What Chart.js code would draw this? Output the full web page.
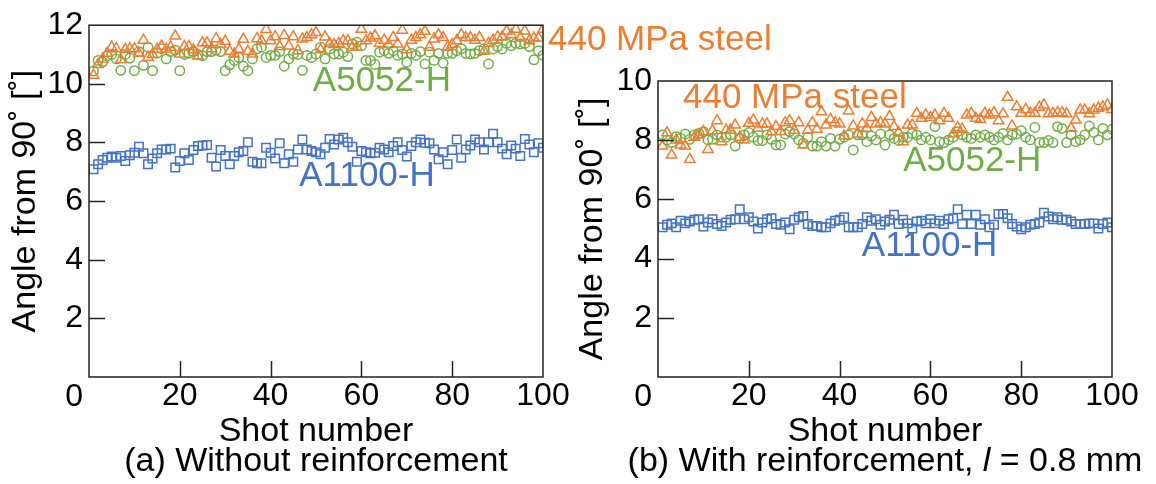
<!DOCTYPE html>
<html>
<head>
<meta charset="utf-8">
<script src="https://cdn.jsdelivr.net/npm/chart.js@4.4.0/dist/chart.umd.min.js"></script>
<style>
  body { margin: 0; background: #fff; }
  #wrap { position: relative; width: 1156px; height: 484px; overflow: hidden; }
  canvas { position: absolute; top: 0; }
  #chartA { left: 0; }
  #chartB { left: 560px; }
</style>
</head>
<body>
<div id="wrap">
  <canvas id="chartA" width="800" height="484"></canvas>
  <canvas id="chartB" width="596" height="484"></canvas>
</div>
<script>
// shot numbers 1..100
const shots = Array.from({ length: 100 }, (_, i) => i + 1);

// (a) without reinforcement
const steelA = [
  10.29, 10.66, 10.85, 11.04, 11.25, 11.2, 10.82, 11.17, 11.2, 11.2,
  11.04, 11.49, 10.91, 11.0, 11.18, 11.29, 11.18, 11.25, 11.63, 11.02,
  11.27, 11.27, 11.16, 10.95, 11.4, 11.4, 11.2, 11.54, 11.34, 11.45,
  11.11, 11.02, 11.18, 11.52, 11.11, 11.02, 11.54, 11.47, 11.85, 11.47,
  11.61, 11.27, 11.65, 11.29, 11.61, 11.13, 11.53, 11.58, 11.67, 11.75,
  11.16, 11.6, 11.38, 11.34, 11.38, 11.47, 11.47, 11.25, 11.25, 11.86,
  11.47, 11.56, 11.64, 11.38, 11.49, 11.34, 11.58, 11.36, 11.83, 11.16,
  11.49, 11.58, 11.67, 11.79, 11.25, 11.53, 11.67, 11.58, 11.25, 11.34,
  11.47, 11.67, 11.58, 11.58, 11.49, 11.58, 11.11, 11.38, 11.49, 11.6,
  11.6, 11.8, 11.67, 11.86, 11.56, 11.8, 11.47, 11.56, 11.56, 11.86
];
const a5052A = [
  10.44, 10.8, 10.75, 10.95, 11.0, 10.85, 10.46, 11.0, 10.88, 10.45,
  11.1, 10.63, 11.25, 10.45, 11.05, 11.2, 10.85, 11.1, 11.15, 10.45,
  11.0, 11.05, 11.1, 11.0, 10.96, 11.1, 11.1, 11.15, 11.1, 10.45,
  10.65, 10.8, 10.9, 10.6, 10.45, 10.85, 11.2, 11.25, 10.9, 10.97,
  10.97, 11.1, 10.6, 10.85, 11.02, 11.0, 10.46, 10.97, 10.9, 11.02,
  11.25, 10.85, 11.19, 11.02, 11.02, 11.08, 10.93, 11.36, 11.42, 11.3,
  10.8, 10.8, 10.66, 11.08, 11.13, 11.04, 11.13, 10.97, 11.02, 10.74,
  11.04, 10.97, 11.1, 10.68, 11.08, 10.8, 11.04, 10.71, 11.04, 11.04,
  11.13, 11.2, 11.04, 11.02, 11.04, 11.13, 11.2, 10.68, 11.19, 11.27,
  11.19, 11.38, 11.3, 11.38, 11.36, 11.38, 11.27, 10.82, 11.13, 10.97
];
const a1100A = [
  7.09, 7.26, 7.4, 7.48, 7.52, 7.48, 7.54, 7.37, 7.56, 7.65,
  7.85, 7.63, 7.26, 7.45, 7.63, 7.76, 7.76, 7.79, 7.15, 7.37,
  7.63, 7.4, 7.74, 7.88, 7.9, 7.91, 7.48, 7.18, 7.74, 7.54,
  7.26, 7.54, 7.67, 7.71, 8.01, 7.34, 7.29, 7.29, 7.82, 7.65,
  7.45, 7.97, 7.29, 7.6, 7.34, 7.76, 8.1, 7.76, 7.71, 7.67,
  7.6, 7.82, 8.12, 7.93, 8.1, 8.16, 8.01, 7.85, 7.34, 7.71,
  7.67, 7.63, 7.65, 7.82, 7.76, 7.67, 7.88, 8.01, 7.74, 7.52,
  7.88, 8.01, 8.1, 7.99, 7.97, 7.76, 7.43, 7.67, 7.26, 7.74,
  8.1, 7.48, 7.76, 7.9, 8.1, 8.01, 7.76, 8.01, 8.3, 8.01,
  7.79, 7.6, 7.9, 7.79, 7.54, 8.12, 7.93, 7.67, 7.97, 7.82
];

// (b) with reinforcement, l = 0.8 mm
const steelB = [
  7.8, 8.25, 7.5, 8.01, 7.84, 7.8, 7.35, 8.1, 8.18, 8.29,
  7.69, 8.32, 8.66, 7.95, 8.34, 8.34, 8.51, 8.1, 8.01, 8.57,
  8.68, 8.4, 8.55, 8.55, 8.29, 8.46, 8.29, 8.59, 8.66, 8.34,
  8.59, 7.84, 8.34, 8.59, 8.37, 8.96, 8.51, 8.7, 8.59, 8.55,
  8.14, 8.99, 8.48, 8.21, 8.55, 8.4, 8.77, 8.55, 8.59, 8.55,
  8.8, 8.46, 8.26, 7.95, 8.51, 8.51, 8.91, 8.74, 8.85, 8.77,
  8.85, 8.66, 8.91, 8.74, 8.21, 8.43, 8.37, 8.85, 8.91, 8.74,
  8.7, 8.91, 8.85, 8.93, 8.66, 8.89, 9.45, 8.48, 9.13, 8.91,
  9.04, 8.91, 8.91, 9.11, 9.19, 8.89, 8.91, 8.93, 8.93, 8.89,
  8.4, 8.68, 9.02, 9.02, 8.89, 9.02, 9.08, 9.13, 9.19, 9.04
];
const a5052B = [
  8.18, 8.01, 7.92, 8.12, 8.06, 8.21, 8.03, 8.18, 8.23, 8.29,
  8.01, 8.03, 8.18, 8.1, 8.1, 8.18, 7.8, 8.06, 8.18, 8.26,
  8.1, 7.99, 7.99, 8.18, 8.03, 7.84, 7.84, 8.21, 8.29, 8.21,
  8.01, 7.9, 8.1, 7.8, 7.8, 7.95, 7.8, 8.06, 7.8, 8.03,
  8.1, 8.18, 7.67, 8.18, 8.18, 7.95, 8.14, 8.01, 8.21, 7.84,
  8.18, 8.06, 7.99, 8.1, 8.1, 8.23, 8.18, 8.01, 8.1, 8.01,
  8.46, 7.95, 7.92, 8.01, 8.1, 8.29, 8.18, 8.1, 8.06, 8.18,
  8.1, 8.18, 8.1, 8.01, 8.1, 8.23, 8.01, 8.18, 8.21, 8.32,
  8.1, 8.01, 8.43, 7.92, 7.92, 7.99, 7.92, 8.46, 8.4, 7.92,
  8.18, 7.95, 8.01, 8.18, 8.48, 8.26, 8.01, 8.4, 8.18, 8.37
];
const a1100B = [
  5.06, 5.14, 5.19, 5.06, 5.28, 5.19, 5.25, 5.31, 5.33, 5.08,
  5.22, 5.33, 5.17, 5.1, 5.22, 5.31, 5.33, 5.67, 5.33, 5.4,
  5.25, 5.02, 5.22, 5.33, 5.36, 5.17, 5.14, 5.22, 4.99, 5.31,
  5.4, 5.44, 5.17, 5.1, 5.1, 5.06, 5.06, 5.19, 5.28, 5.31,
  5.4, 5.06, 5.06, 5.06, 5.17, 5.4, 5.28, 5.33, 5.14, 5.25,
  5.31, 5.48, 5.17, 5.31, 5.19, 5.02, 5.25, 5.28, 5.19, 5.33,
  5.19, 5.28, 5.17, 5.33, 5.36, 5.67, 5.17, 5.48, 5.17, 5.48,
  5.14, 5.33, 5.06, 5.14, 5.51, 5.51, 5.36, 5.17, 5.08, 4.99,
  5.06, 5.14, 5.17, 5.22, 5.55, 5.42, 5.33, 5.4, 5.31, 5.31,
  5.25, 5.17, 5.17, 5.17, 5.19, 5.19, 5.02, 5.17, 5.22, 5.06
];

const seriesNames = ['440 MPa steel', 'A5052-H', 'A1100-H'];
const ORANGE = '#ED7D31';
const GREEN = '#70AD47';
const BLUE = '#4472C4';
const FAMILY = '"Liberation Sans", Arial, Helvetica, sans-serif';

function points(vals) {
  return vals.map((v, i) => ({ x: shots[i], y: v }));
}

// frame, inward ticks, corner zero, caption and the coloured series names
const panelDecor = {
  id: 'panelDecor',
  afterDraw(chart, args, opts) {
    const { ctx, chartArea: a, scales: { x, y } } = chart;
    ctx.save();
    ctx.strokeStyle = '#222';
    ctx.lineWidth = 1.5;
    ctx.beginPath();
    y.ticks.forEach(t => {
      if (t.value <= y.min || t.value >= y.max) return;
      const py = Math.round(y.getPixelForValue(t.value)) + 0.5;
      ctx.moveTo(a.left, py);
      ctx.lineTo(a.left + 16, py);
    });
    x.ticks.forEach(t => {
      if (t.value <= x.min || t.value >= x.max) return;
      const px = Math.round(x.getPixelForValue(t.value)) + 0.5;
      ctx.moveTo(px, a.bottom);
      ctx.lineTo(px, a.bottom - 16);
    });
    ctx.stroke();
    ctx.strokeRect(a.left, a.top, a.right - a.left, a.bottom - a.top);

    ctx.font = '32px ' + FAMILY;
    ctx.fillStyle = '#000';
    ctx.textAlign = 'right';
    ctx.textBaseline = 'middle';
    ctx.fillText('0', a.left - 6, a.bottom + 20);

    // caption, parts may be italic
    ctx.textAlign = 'left';
    const fontOf = p => (p.italic ? 'italic ' : '') + '34px ' + FAMILY;
    let total = 0;
    opts.caption.forEach(p => { ctx.font = fontOf(p); total += ctx.measureText(p.text).width; });
    let cx = (a.left + a.right) / 2 - total / 2;
    opts.caption.forEach(p => {
      ctx.font = fontOf(p);
      ctx.fillText(p.text, cx, a.bottom + 85);
      cx += ctx.measureText(p.text).width;
    });

    ctx.font = '35px ' + FAMILY;
    opts.labels.forEach(l => {
      ctx.fillStyle = l.color;
      ctx.fillText(l.text, x.getPixelForValue(l.x), y.getPixelForValue(l.y));
    });
    ctx.restore();
  }
};

function makeChart(id, steel, a5052, a1100, cfg) {
  const ctx = document.getElementById(id).getContext('2d');
  return new Chart(ctx, {
    type: 'scatter',
    data: {
      datasets: [{
        label: seriesNames[0],
        data: points(steel),
        pointStyle: 'triangle',
        pointRadius: 6,
        pointBorderColor: ORANGE,
        pointBackgroundColor: 'rgba(0,0,0,0)',
        pointBorderWidth: 1.5
      }, {
        label: seriesNames[1],
        data: points(a5052),
        pointStyle: 'circle',
        pointRadius: 4.7,
        pointBorderColor: GREEN,
        pointBackgroundColor: 'rgba(0,0,0,0)',
        pointBorderWidth: 1.5
      }, {
        label: seriesNames[2],
        data: points(a1100),
        pointStyle: 'rect',
        pointRadius: 6,
        pointBorderColor: BLUE,
        pointBackgroundColor: 'rgba(0,0,0,0)',
        pointBorderWidth: 1.5
      }]
    },
    options: {
      responsive: false,
      animation: false,
      layout: { padding: cfg.padding },
      plugins: {
        legend: { display: false },
        tooltip: { enabled: false },
        panelDecor: { labels: cfg.labels, caption: cfg.caption }
      },
      scales: {
        x: {
          type: 'linear',
          min: 0,
          max: 100,
          afterFit: s => { s.height = 107; },
          grid: { display: false, drawTicks: false },
          border: { display: false },
          ticks: {
            stepSize: 20,
            padding: 0,
            maxRotation: 0,
            autoSkip: false,
            color: '#000',
            font: { size: 32, family: FAMILY, lineHeight: 1.2 },
            callback: v => v === 0 ? '' : v
          },
          title: {
            display: true,
            text: 'Shot number',
            color: '#000',
            font: { size: 34, family: FAMILY, lineHeight: 0.88 },
            padding: { top: 0, bottom: 37 }
          }
        },
        y: {
          min: 0,
          max: cfg.yMax,
          afterFit: s => { s.width = cfg.yWidth; },
          grid: { display: false, drawTicks: false },
          border: { display: false },
          ticks: {
            stepSize: 2,
            padding: 6,
            color: '#000',
            font: { size: 32, family: FAMILY, lineHeight: 1.2 },
            callback: v => v === 0 ? '' : v
          },
          title: {
            display: true,
            text: 'Angle from 90˚ [˚]',
            color: '#000',
            font: { size: 34, family: FAMILY, lineHeight: 1.2 },
            padding: { top: cfg.titlePad, bottom: 0 }
          }
        }
      }
    },
    plugins: [panelDecor]
  });
}

makeChart('chartA', steelA, a5052A, a1100A, {
  padding: { left: 0, top: 21, right: 257, bottom: 0 },
  yMax: 12,
  yWidth: 89,
  titlePad: 5,
  caption: [{ text: '(a) Without reinforcement' }],
  labels: [
    { text: seriesNames[0], color: ORANGE, x: 101.1, y: 11.49 },
    { text: seriesNames[1], color: GREEN, x: 49.3, y: 10.08 },
    { text: seriesNames[2], color: BLUE, x: 46.3, y: 6.84 }
  ]
});

makeChart('chartB', steelB, a5052B, a1100B, {
  padding: { left: 0, top: 81, right: 44, bottom: 0 },
  yMax: 10,
  yWidth: 98,
  titlePad: 12,
  caption: [
    { text: '(b) With reinforcement, ' },
    { text: 'l', italic: true },
    { text: ' = 0.8 mm' }
  ],
  labels: [
    { text: seriesNames[0], color: ORANGE, x: 5.5, y: 9.43 },
    { text: seriesNames[1], color: GREEN, x: 54.0, y: 7.30 },
    { text: seriesNames[2], color: BLUE, x: 44.9, y: 4.43 }
  ]
});
</script>
</body>
</html>
